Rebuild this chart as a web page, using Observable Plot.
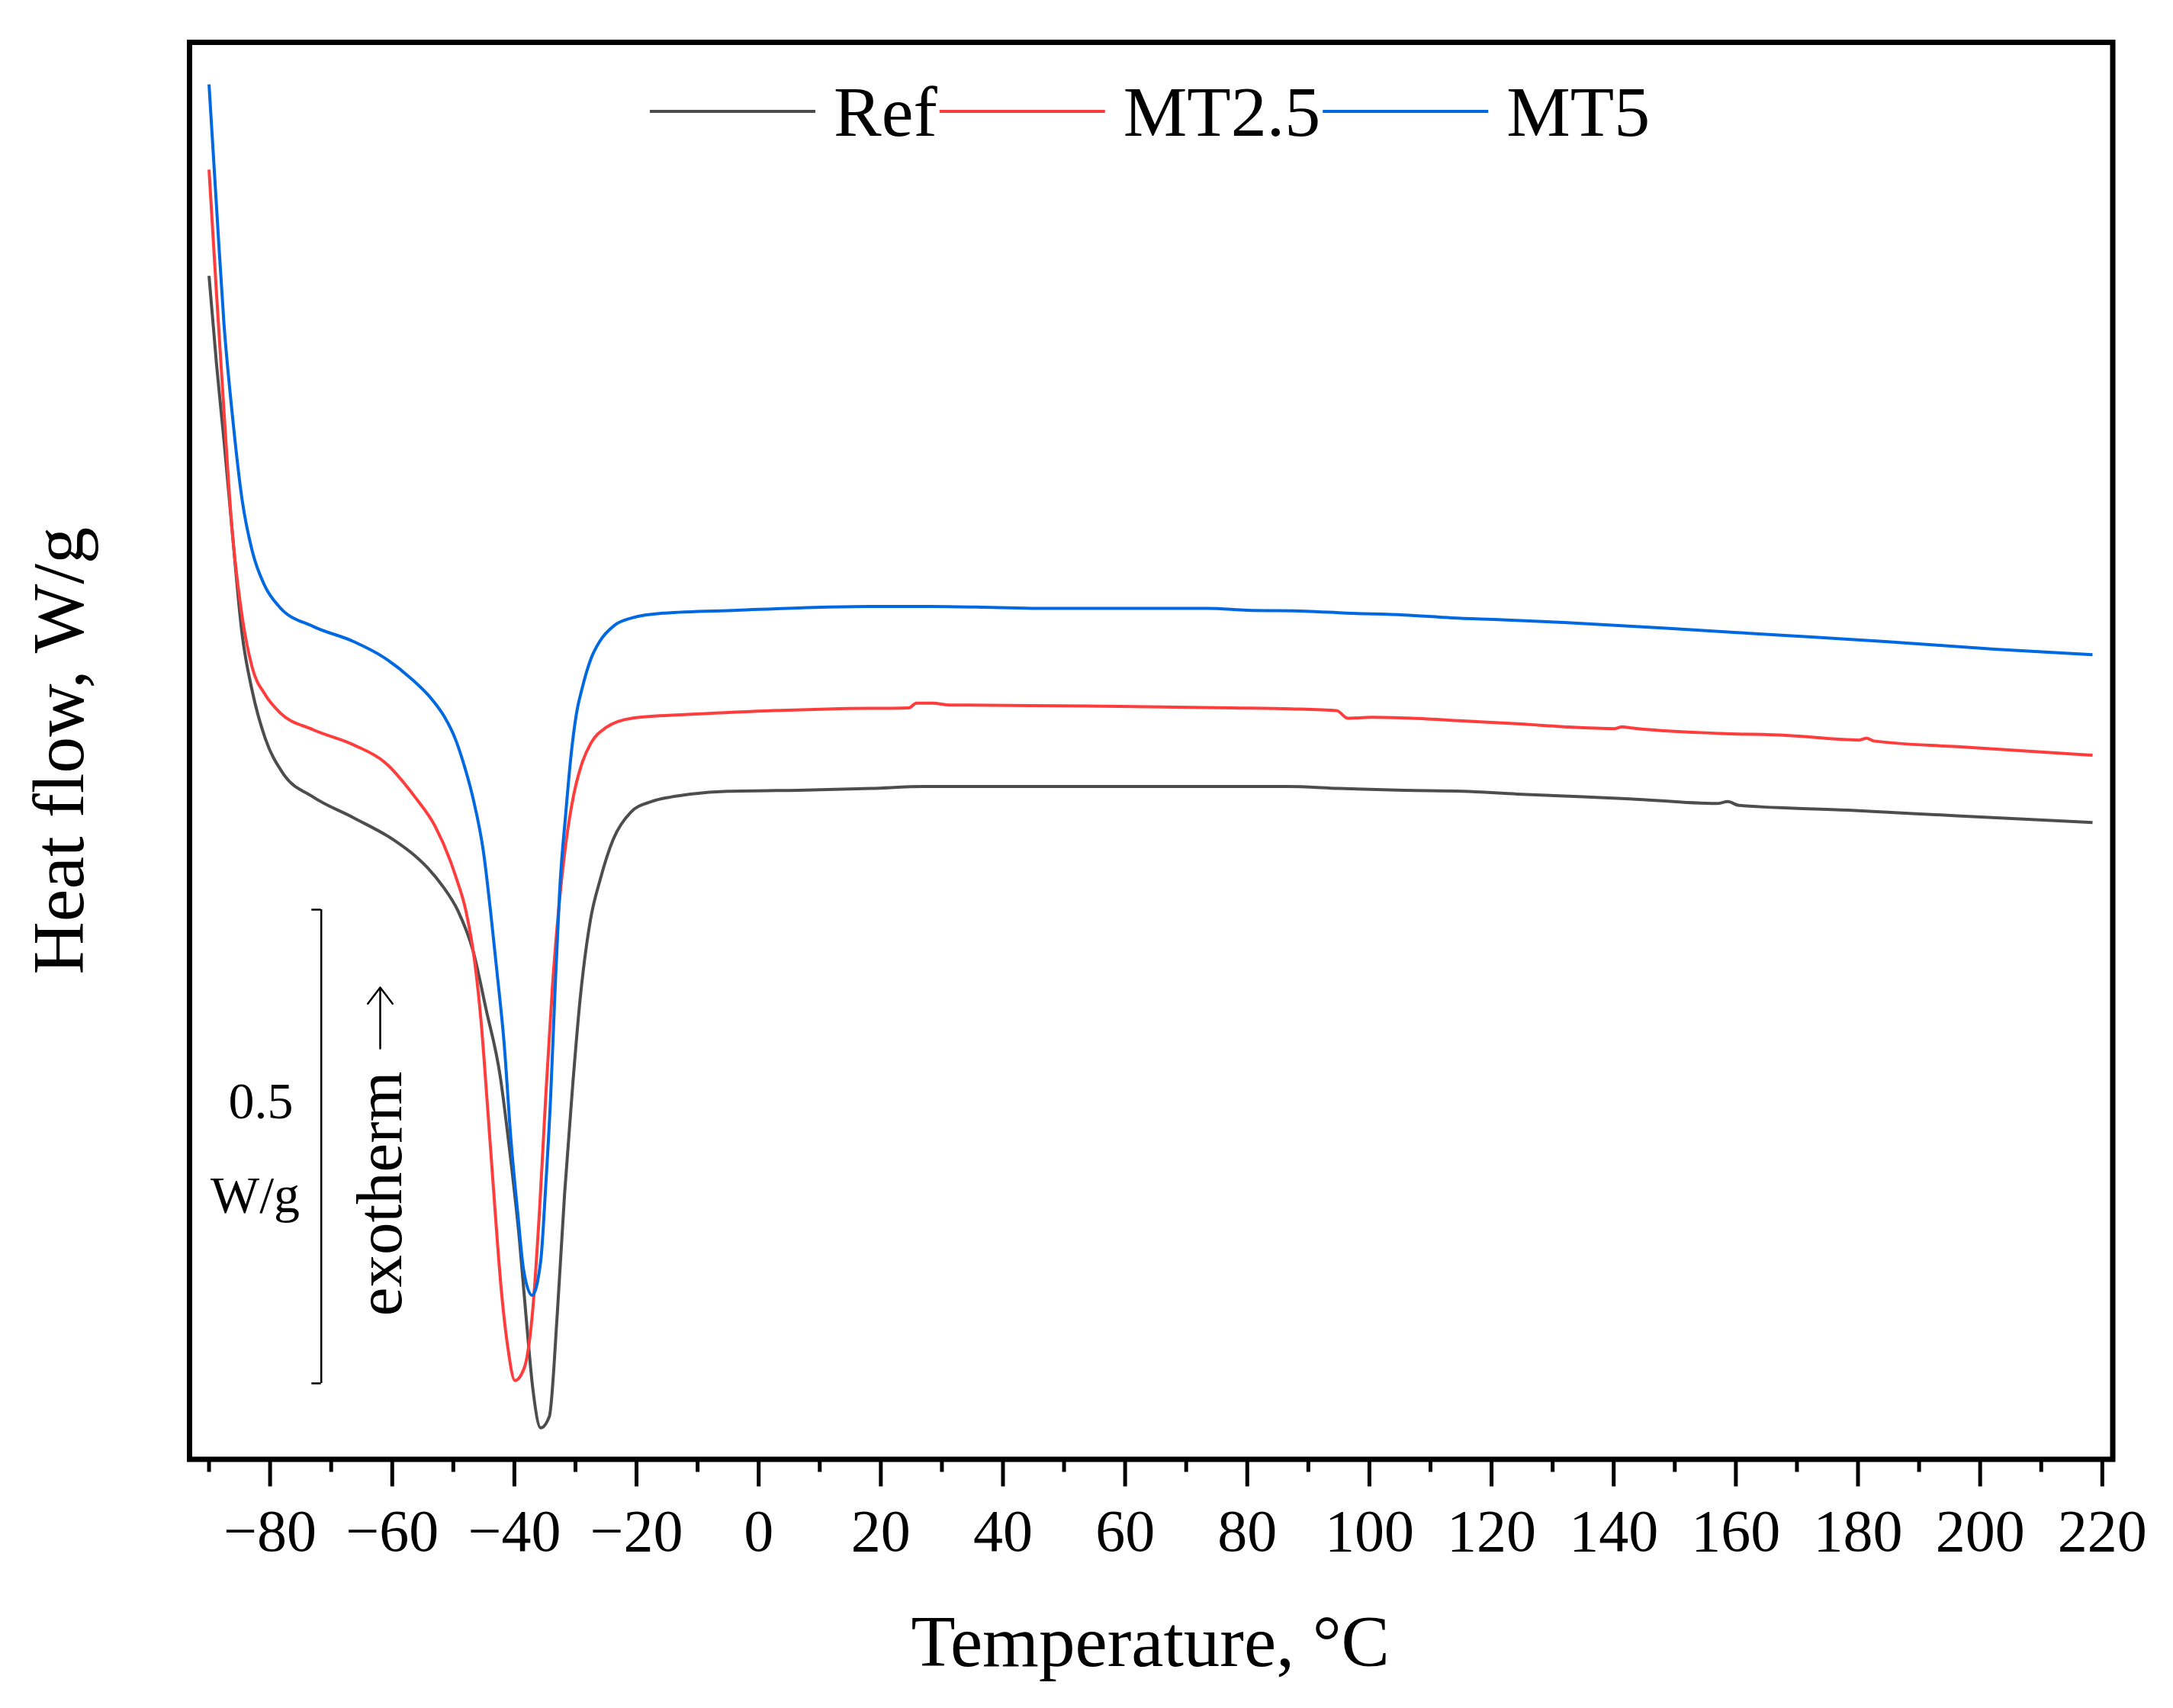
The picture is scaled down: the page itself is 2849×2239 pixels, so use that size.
<!DOCTYPE html>
<html>
<head>
<meta charset="utf-8">
<script src="https://cdn.jsdelivr.net/npm/d3@7"></script>
<script src="https://cdn.jsdelivr.net/npm/@observablehq/plot@0.6"></script>
<style>
  html, body { margin: 0; padding: 0; background: #ffffff; }
  svg { display: block; }
</style>
</head>
<body>
<div id="chart"></div>
<script>
// ---- Data (Temperature °C, heat flow W/g with arbitrary offset) ----
const seriesNames = ["Ref", "MT2.5", "MT5"];
const seriesColors = ["#4d4d4d", "#ff3d3d", "#0068e0"];

const refCurve = [
  [-90, 1.256], [-88.76, 1.162], [-87.55, 1.082], [-86.24, 0.989], [-84.59, 0.878],
  [-82.90, 0.817], [-80.81, 0.768], [-77.90, 0.731], [-72.98, 0.706], [-66.34, 0.684],
  [-59.61, 0.660], [-56.29, 0.644], [-54.18, 0.631], [-51.77, 0.612], [-49.26, 0.586],
  [-46.75, 0.543], [-44.64, 0.482], [-42.32, 0.411], [-40.91, 0.340], [-39.21, 0.241],
  [-38.00, 0.151], [-36.99, 0.082], [-35.69, 0.040], [-34.28, 0.052], [-32.98, 0.160],
  [-31.77, 0.288], [-30.46, 0.401], [-29.26, 0.491], [-27.55, 0.576], [-25.94, 0.619],
  [-23.83, 0.661], [-20.92, 0.690], [-17.60, 0.701], [-14.28, 0.706], [-11.17, 0.709],
  [-5.03, 0.712], [6.52, 0.713], [18.48, 0.715], [27.03, 0.717], [38.18, 0.717],
  [86.53, 0.717], [94.97, 0.715], [105.73, 0.713], [115.27, 0.712], [124.22, 0.709],
  [131.86, 0.707], [142.61, 0.704], [156.88, 0.699], [158.69, 0.701], [160.50, 0.697],
  [178.39, 0.692], [196.28, 0.686], [218.4, 0.679]
];

const mt25Curve = [
  [-90, 1.368], [-88.76, 1.236], [-87.55, 1.113], [-86.24, 0.989], [-84.59, 0.897],
  [-82.90, 0.842], [-80.81, 0.814], [-78.40, 0.795], [-72.98, 0.777], [-66.34, 0.761],
  [-61.32, 0.743], [-56.29, 0.706], [-52.98, 0.675], [-50.46, 0.638], [-49.66, 0.623],
  [-47.95, 0.586], [-46.54, 0.534], [-45.44, 0.468], [-44.43, 0.382], [-43.43, 0.293],
  [-42.12, 0.184], [-41.12, 0.127], [-39.91, 0.090], [-38.40, 0.103], [-36.99, 0.165],
  [-35.89, 0.269], [-34.89, 0.387], [-33.78, 0.505], [-32.77, 0.586], [-31.57, 0.657],
  [-30.26, 0.709], [-28.85, 0.743], [-27.45, 0.763], [-25.04, 0.779], [-20.71, 0.789],
  [-11.67, 0.793], [1.70, 0.797], [12.25, 0.799], [24.61, 0.800], [25.81, 0.805],
  [28.42, 0.805], [31.35, 0.803], [53.76, 0.802], [77.57, 0.800], [87.13, 0.799],
  [94.66, 0.797], [96.46, 0.789], [100.30, 0.790], [106.93, 0.789], [115.87, 0.786],
  [124.82, 0.783], [131.86, 0.780], [140.18, 0.778], [141.38, 0.780], [142.61, 0.779],
  [157.48, 0.773], [168.24, 0.771], [180.20, 0.766], [181.40, 0.768], [182.61, 0.765],
  [196.28, 0.759], [218.4, 0.750]
];

const mt5Curve = [
  [-90, 1.458], [-88.76, 1.328], [-87.55, 1.205], [-86.24, 1.113], [-84.59, 1.020],
  [-82.90, 0.965], [-80.81, 0.928], [-78.40, 0.906], [-72.98, 0.886], [-66.34, 0.870],
  [-61.32, 0.853], [-57.10, 0.832], [-53.38, 0.808], [-51.50, 0.791], [-49.66, 0.767],
  [-48.35, 0.742], [-46.75, 0.704], [-45.04, 0.647], [-43.83, 0.581], [-42.83, 0.520],
  [-41.72, 0.449], [-40.51, 0.340], [-39.41, 0.264], [-38.50, 0.207], [-37.10, 0.180],
  [-35.69, 0.216], [-34.89, 0.293], [-34.08, 0.387], [-33.38, 0.496], [-32.57, 0.609],
  [-31.57, 0.690], [-30.77, 0.747], [-29.86, 0.793], [-28.85, 0.822], [-27.45, 0.852],
  [-26.04, 0.870], [-23.63, 0.887], [-20.71, 0.895], [-15.49, 0.900], [-3.53, 0.903],
  [9.34, 0.906], [17.98, 0.907], [28.02, 0.907], [38.18, 0.906], [45.61, 0.905],
  [73.47, 0.905], [80.00, 0.903], [89.54, 0.902], [96.17, 0.900], [105.73, 0.898],
  [113.46, 0.895], [121.80, 0.893], [131.86, 0.890], [148.56, 0.884], [166.45, 0.877],
  [184.41, 0.870], [202.31, 0.862], [218.4, 0.856]
];

const majorTicks = [-80, -60, -40, -20, 0, 20, 40, 60, 80, 100, 120, 140, 160, 180, 200, 220];
const minorTicks = [-90, -70, -50, -30, -10, 10, 30, 50, 70, 90, 110, 130, 150, 170, 190, 210];

// scale bar: 0.5 W/g
const scaleBar = [{T: -71.62, tickT: -73.17, V0: 0.087, V1: 0.587}];
const scaleLabels = [
  {T: -81.51, V: 0.3665, label: "0.5"},
  {T: -82.45, V: 0.2676, label: "W/g"}
];
// "exotherm" label (rotated) and its upward arrow
const exothermLabel = [{T: -58.59, V: 0.158, label: "exotherm"}];
const exothermArrow = [{T: -61.97, V1: 0.4404, V2: 0.5048}];

const xLabel = "Temperature, \u00B0C";
const yLabel = "Heat flow, W/g";

// ---- Build table ----
const curves = [refCurve, mt25Curve, mt5Curve];
const rows = curves.flatMap((c, i) => c.map(([T, V]) => ({T, V, series: seriesNames[i]})));

const FONT = "Liberation Serif, Times New Roman, serif";
const fmt = d => d < 0 ? "\u2212" + Math.abs(d) : String(d);

const chart = Plot.plot({
  width: 2849,
  height: 2239,
  marginLeft: 248,
  marginRight: 79.5,
  marginTop: 55,
  marginBottom: 326.5,
  style: {background: "white", color: "black", fontFamily: FONT, fontSize: "78px"},
  x: {domain: [-93.19, 221.71]},
  y: {domain: [0.00684, 1.50242], axis: null},
  color: {domain: seriesNames, range: seriesColors},
  marks: [
    Plot.axisX({ticks: majorTicks, tickSize: 36, tickPadding: 29, fontSize: 78,
                strokeWidth: 5, tickFormat: fmt, label: null, fill: "black"}),
    Plot.axisX({ticks: minorTicks, tickSize: 17, strokeWidth: 5, tickFormat: () => "", label: null}),
    Plot.line(rows, {x: "T", y: "V", z: "series", stroke: "series", strokeWidth: 4,
                     curve: "monotone-x", strokeLinejoin: "round", strokeLinecap: "butt"}),
    // scale bar
    Plot.ruleX(scaleBar, {x: "T", y1: "V0", y2: "V1", stroke: "black", strokeWidth: 2.5}),
    Plot.ruleY(scaleBar, {y: "V0", x1: "tickT", x2: "T", stroke: "black", strokeWidth: 2.5}),
    Plot.ruleY(scaleBar, {y: "V1", x1: "tickT", x2: "T", stroke: "black", strokeWidth: 2.5}),
    Plot.text(scaleLabels, {x: "T", y: "V", text: "label", fontSize: 68, lineAnchor: "bottom", fill: "black"}),
    Plot.text(exothermLabel, {x: "T", y: "V", text: "label", fontSize: 85, rotate: -90,
                              textAnchor: "start", lineAnchor: "bottom", fill: "black"}),
    Plot.arrow(exothermArrow, {x1: "T", x2: "T", y1: "V1", y2: "V2", stroke: "black",
                               strokeWidth: 2.5, headLength: 24, headAngle: 75}),
    // axis titles
    Plot.text([xLabel], {text: d => d, frameAnchor: "bottom", dy: 270.5, dx: -1,
                         fontSize: 95, textAnchor: "middle", lineAnchor: "bottom", fill: "black"}),
    Plot.text([yLabel], {text: d => d, frameAnchor: "left", dx: -140, rotate: -90,
                         fontSize: 96, textAnchor: "middle", lineAnchor: "bottom", fill: "black"}),
    Plot.frame({stroke: "black", strokeWidth: 7})
  ]
});

document.getElementById("chart").appendChild(chart);

// ---- Legend (inside the frame, top) ----
const svg = d3.select(chart);
const lg = svg.append("g").attr("class", "legend").attr("text-anchor", "start");
let lx = 852;
const lineY = 146, baseY = 178, lineLen = 217, textOff = 241, itemGap = 3;
seriesNames.forEach((name, i) => {
  lg.append("line")
    .attr("x1", lx).attr("x2", lx + lineLen)
    .attr("y1", lineY).attr("y2", lineY)
    .attr("stroke", seriesColors[i]).attr("stroke-width", 4);
  const t = lg.append("text")
    .attr("x", lx + textOff).attr("y", baseY)
    .attr("text-anchor", "start")
    .attr("font-family", FONT).attr("font-size", 94)
    .attr("fill", "black")
    .text(name);
  lx = lx + textOff + t.node().getComputedTextLength() + itemGap;
});
</script>
</body>
</html>
